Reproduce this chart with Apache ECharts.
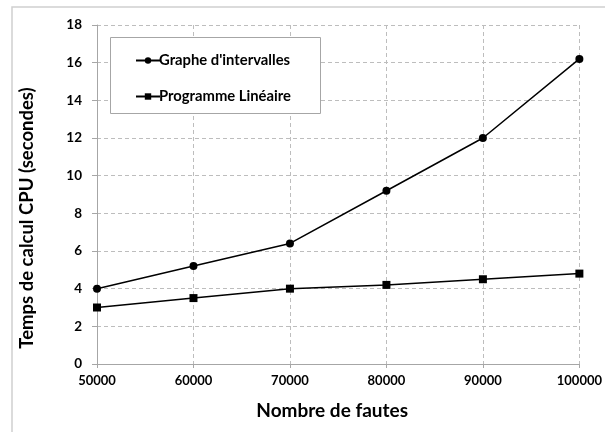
<!DOCTYPE html>
<html><head><meta charset="utf-8">
<script src="https://cdn.jsdelivr.net/npm/echarts@6/dist/echarts.min.js"></script>
<style>html,body{margin:0;padding:0;background:#fff}#c{width:605px;height:432px}</style>
</head><body><div id="c"></div>
<script>
const xValues = [50000, 60000, 70000, 80000, 90000, 100000];
const graphe = [4.0, 5.2, 6.4, 9.2, 12.0, 16.2];
const programme = [3.0, 3.5, 4.0, 4.2, 4.5, 4.8];
const seriesNames = ["Graphe d'intervalles", "Programme Linéaire"];
const xTitle = "Nombre de fautes";
const yTitle = "Temps de calcul CPU (secondes)";

const font = "Lato, 'Open Sans', sans-serif";
const chart = echarts.init(document.getElementById('c'));
const pair = (arr) => xValues.map((x, i) => [x, arr[i]]);
chart.setOption({
  animation: false,
  backgroundColor: '#fff',
  textStyle: { fontFamily: font },
  graphic: [
    { type: 'rect', shape: { x: 12, y: 7, width: 600, height: 440 }, style: { fill: 'none', stroke: '#d0d0d0', lineWidth: 1.5 }, z: -1 },
    { type: 'rect', shape: { x: 110.5, y: 37.5, width: 210, height: 76 }, style: { fill: '#fff', stroke: '#a6a6a6', lineWidth: 1 }, z: 10 },
    { type: 'text', x: 27, y: 218, rotation: Math.PI / 2, z: 10,
      style: { text: yTitle, fontFamily: font, fontWeight: 'bold', fontSize: 18.5, fill: '#000', align: 'center', verticalAlign: 'middle' } }
  ],
  grid: { left: 97, right: 22, top: 25, bottom: 68 },
  legend: {
    orient: 'vertical', left: 130, top: 48, itemGap: 21,
    itemWidth: 24, itemHeight: 8, z: 20,
    textStyle: { fontFamily: font, fontWeight: 'bold', fontSize: 14.8, color: '#000', padding: [0, 0, 0, -6] },
    data: seriesNames
  },
  xAxis: {
    type: 'value', min: 50000, max: 100000, interval: 10000,
    name: xTitle, nameLocation: 'middle', nameGap: 37,
    nameTextStyle: { fontFamily: font, fontWeight: 'bold', fontSize: 19, color: '#000', padding: [0, 12, 0, 0] },
    axisLine: { lineStyle: { color: '#a6a6a6', width: 1 } },
    axisTick: { show: true, length: 4, lineStyle: { color: '#a6a6a6' } },
    axisLabel: { fontFamily: font, fontWeight: 'bold', fontSize: 13, color: '#000', margin: 10, formatter: (v) => String(v) },
    splitLine: { show: true, lineStyle: { color: '#bdbdbd', type: [4, 3], width: 1 } }
  },
  yAxis: {
    type: 'value', min: 0, max: 18, interval: 2,
    axisLine: { show: true, lineStyle: { color: '#a6a6a6', width: 1 } },
    axisTick: { show: true, length: 5, lineStyle: { color: '#a6a6a6' } },
    axisLabel: { fontFamily: font, fontWeight: 'bold', fontSize: 13.5, color: '#000', margin: 15 },
    splitLine: { show: true, lineStyle: { color: '#bdbdbd', type: [4, 3], width: 1 } }
  },
  series: [
    { name: seriesNames[0], type: 'line', data: pair(graphe), symbol: 'circle', symbolSize: 8,
      lineStyle: { color: '#000', width: 1.5 }, itemStyle: { color: '#000' } },
    { name: seriesNames[1], type: 'line', data: pair(programme), symbol: 'rect', symbolSize: 8,
      lineStyle: { color: '#000', width: 1.5 }, itemStyle: { color: '#000' } }
  ]
});
</script></body></html>
